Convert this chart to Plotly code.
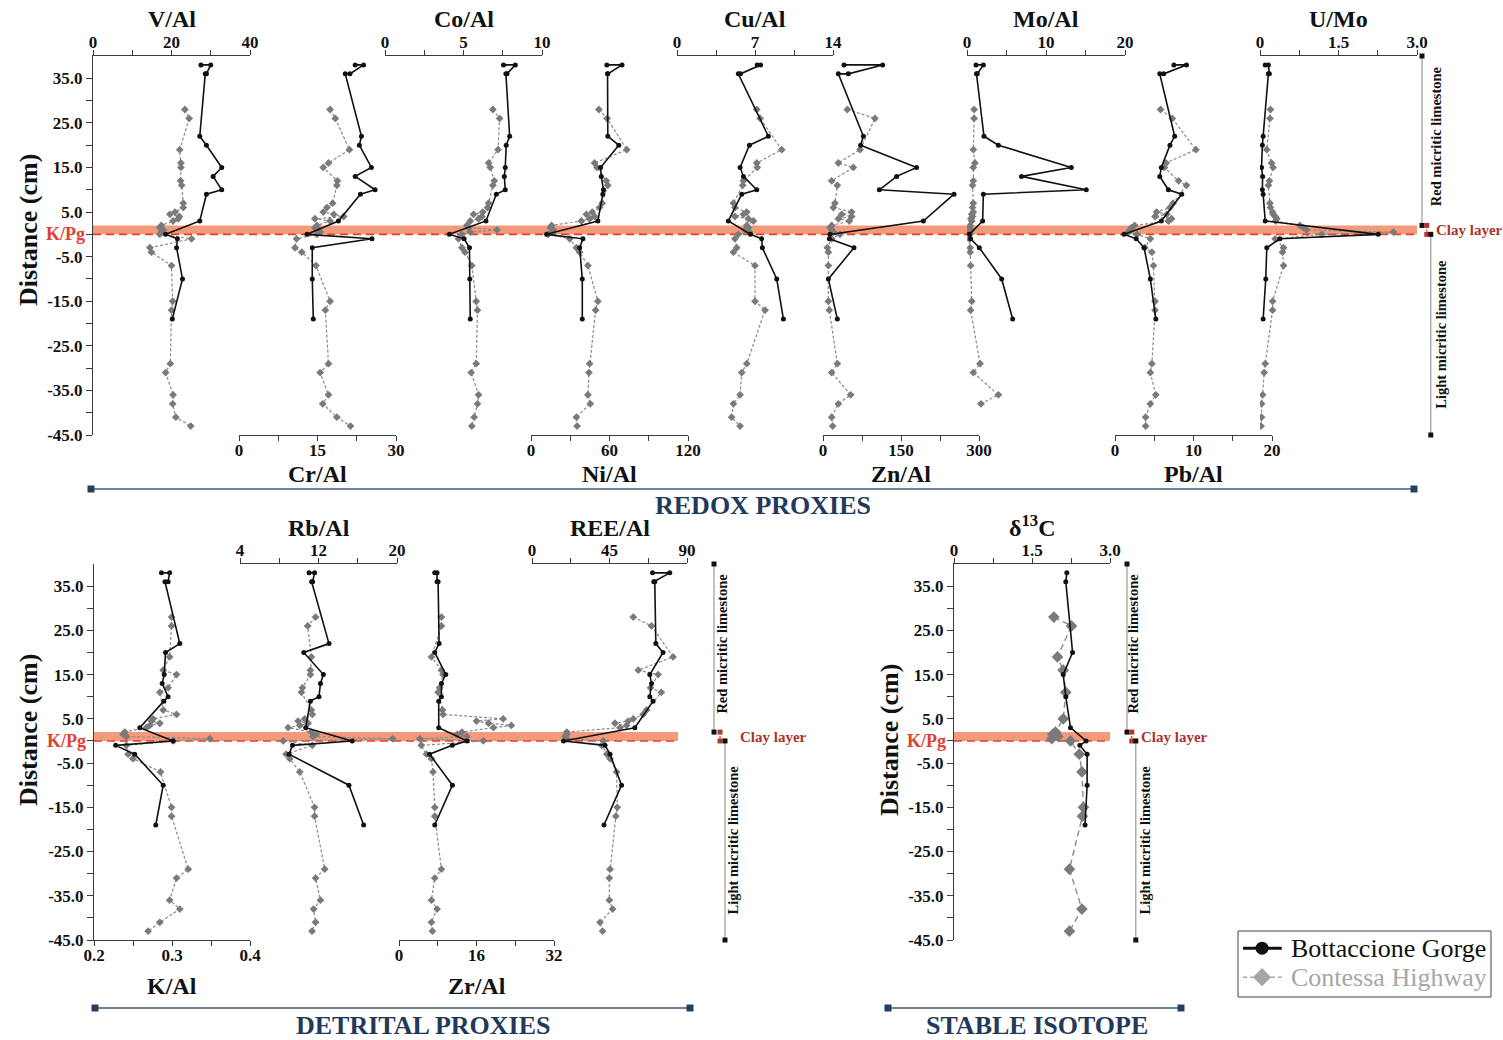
import plotly.graph_objects as go

W, H = 1503, 1040


def fx(p):
    return p / W


def fy(p):
    return 1 - p / H


SERIF = "Liberation Serif"
INK = "#111111"
GREY_LINE = "#8a8a8a"
GREY_MARK = "#7a7a7a"
LEGEND_GREY = "#a6a6a6"
CLAY = "#f39a7b"
KPG_RED = "#e2402f"
CLAY_TXT = "#a8352a"
NAVY = "#1f3a5a"
RULE = "#3e5a76"

# ---------------------------------------------------------------- data
# sample depths relative to the K/Pg boundary (cm)
BG_DEPTH = [38, 38, 36, 36, 22, 20, 15, 13, 10, 9, 3, 0, -1, -3, -10, -19]
CH_DEPTH = [28, 26, 19, 16, 15, 12, 11, 7, 6, 5, 4.5, 4, 3.5, 3, 2, 1.5, 1, 0.5,
            0, -1, -3, -4, -7, -15, -17, -29, -31, -36, -38, -41, -43]

# redox proxies
V_AL_BG = [27.5, 30.0, 28.9, 28.6, 27.2, 28.9, 32.8, 30.6, 32.8, 28.9, 27.2, 18.5, 21.5, 21.3, 22.8, 20.2]
V_AL_CH = [23.4, 24.5, 22.1, 22.4, 22.4, 22.3, 22.6, 23.0, 23.0, 20.9, 19.6, 22.0, 21.7, 20.4, 17.4, 17.0,
           17.9, 17.4, 17.0, 25.1, 14.5, 14.9, 20.0, 20.3, 20.0, 19.7, 18.5, 20.4, 20.3, 21.1, 24.9]

CR_AL_BG = [22.2, 23.8, 21.2, 20.3, 23.4, 23.0, 25.3, 22.2, 26.0, 23.2, 19.0, 13.0, 25.4, 14.0, 14.0, 14.2]
CR_AL_CH = [17.4, 18.4, 21.1, 17.1, 16.1, 18.8, 18.7, 17.9, 16.8, 16.1, 18.1, 20.0, 14.5, 17.4, 14.9, 14.5,
            15.2, 15.5, 14.9, 11.0, 10.7, 12.0, 14.7, 17.4, 16.5, 17.1, 15.5, 17.1, 16.0, 18.7, 21.3]

CO_AL_BG = [7.55, 8.3, 7.77, 7.7, 7.94, 7.72, 7.66, 7.6, 7.66, 7.09, 6.43, 4.1, 5.04, 5.38, 5.4, 5.43]
CO_AL_CH = [6.87, 7.3, 7.2, 6.6, 6.7, 6.96, 6.87, 6.6, 6.53, 6.23, 5.64, 6.17, 5.96, 5.43, 5.21, 5.32,
            7.13, 5.43, 4.9, 4.68, 4.9, 5.1, 5.53, 5.81, 5.89, 5.81, 5.49, 5.96, 5.89, 5.68, 5.53]

NI_AL_BG = [58.0, 69.6, 58.7, 58.5, 58.7, 67.1, 53.2, 53.7, 55.4, 54.9, 51.1, 11.9, 39.7, 37.2, 39.2, 39.2]
NI_AL_CH = [51.9, 58.2, 73.2, 48.6, 50.4, 57.5, 58.7, 54.4, 52.4, 46.8, 42.3, 48.6, 44.8, 38.5, 15.7, 14.9,
            17.0, 16.5, 13.2, 29.6, 34.7, 37.2, 43.5, 51.1, 49.4, 44.8, 44.3, 43.5, 45.3, 34.7, 35.2]

CU_AL_BG = [7.2, 7.5, 5.7, 5.5, 8.2, 6.5, 5.66, 5.96, 7.16, 5.81, 4.61, 6.6, 7.6, 7.66, 8.95, 9.55]
CU_AL_CH = [7.16, 7.46, 9.4, 7.16, 7.2, 5.96, 5.9, 5.06, 5.2, 6.26, 5.96, 5.2, 6.4, 6.86, 6.26, 6.4,
            6.1, 6.5, 5.5, 5.2, 5.36, 5.06, 7.0, 7.0, 7.9, 6.26, 5.81, 5.66, 5.06, 4.9, 5.66]

ZN_AL_BG = [40.4, 114.7, 48.7, 29.5, 77.6, 72.4, 180.0, 141.7, 108.3, 252.0, 193.0, 13.5, 12.2, 59.6, 10.3, 27.6]
ZN_AL_CH = [46.8, 100.0, 71.2, 29.5, 58.3, 16.7, 27.6, 23.0, 20.0, 55.0, 36.0, 55.0, 29.5, 50.6, 16.7, 13.5,
            16.7, 20.0, 32.7, 16.7, 8.3, 10.3, 10.3, 10.3, 12.2, 27.6, 16.7, 53.2, 29.5, 16.7, 18.6]

MO_AL_BG = [1.14, 2.07, 1.3, 1.2, 2.15, 3.97, 13.2, 6.9, 15.1, 2.07, 1.98, 0.3, 0.46, 1.56, 4.39, 5.78]
MO_AL_CH = [0.9, 0.9, 0.8, 1.0, 0.8, 0.8, 0.7, 0.8, 0.7, 0.8, 0.6, 0.7, 0.5, 0.6, 0.4, 0.3,
            0.5, 0.3, 0.4, 0.3, 0.4, 0.4, 0.46, 0.6, 0.46, 1.65, 0.8, 3.97, 1.77, None, None]

PB_AL_BG = [7.5, 9.1, 6.2, 5.7, 7.6, 7.0, 5.9, 5.7, 6.8, 8.5, 5.9, 1.15, 2.7, 3.7, 4.5, 5.2]
PB_AL_CH = [5.8, 7.3, 10.3, 6.5, 6.3, 8.1, 9.1, 7.4, 7.0, 5.3, 6.6, 5.1, 7.2, 6.8, 2.5, 2.1,
            1.9, 1.7, 2.8, 4.5, 3.8, 4.7, 4.9, 5.1, 5.1, 4.7, 4.5, 5.2, 4.5, 3.9, 3.9]

U_MO_BG = [0.1, 0.16, 0.18, 0.16, 0.06, 0.045, 0.03, 0.05, 0.045, 0.06, 0.1, 2.26, 0.38, 0.13, 0.11, 0.06]
U_MO_CH = [0.2, 0.19, 0.13, 0.22, 0.25, 0.18, 0.16, 0.19, 0.2, 0.24, 0.25, 0.29, 0.32, 0.3, 0.76, 0.83,
           0.89, 2.55, 1.18, 0.29, 0.45, 0.43, 0.45, 0.24, 0.24, 0.1, 0.08, 0.05, 0.03, 0.03, 0.02]

# detrital proxies
K_AL_BG = [0.2865, 0.297, 0.295, 0.291, 0.31, 0.2917, 0.29, 0.2874, 0.295, 0.2895, 0.2587, 0.3015,
           0.2278, 0.2522, 0.2887, 0.2792]
K_AL_CH = [0.2994, 0.2994, 0.297, 0.2887, 0.3058, 0.295, 0.2844, 0.2887, 0.3058, 0.2758, 0.2737, 0.2844,
           0.2715, 0.267, 0.2394, 0.2373, 0.2415, 0.3486, 0.3015, 0.2415, 0.2437, 0.25, 0.2852, 0.2994,
           0.2994, 0.3208, 0.3058, 0.297, 0.31, 0.2844, 0.2694]

RB_AL_BG = [11.04, 11.6, 11.4, 11.3, 13.07, 10.5, 12.5, 12.2, 12.05, 11.17, 10.7, 15.43, 9.35, 9.0, 15.1, 16.6]
RB_AL_CH = [11.7, 10.9, 11.27, 11.17, 11.17, 10.36, 10.26, 11.27, 11.37, 10.6, 9.92, 10.94, 10.09, 8.9,
            11.27, 11.78, 11.44, 19.56, 8.4, 11.37, 8.7, 9.07, 10.09, 11.6, 11.6, 12.63, 11.7, 12.2, 11.5,
            11.7, 11.34]

ZR_AL_BG = [7.38, 7.86, 7.86, 8.07, 8.28, 7.38, 9.66, 8.76, 8.76, 8.2, 8.2, 14.07, 11.0, 6.3, 11.03, 7.38]
ZR_AL_CH = [8.76, 8.76, 6.7, 8.76, 9.1, 8.4, 8.07, 8.97, 9.1, 21.5, 16.0, 18.5, 23.2, 19.5, 13.0, 12.0,
            14.0, 4.3, 17.4, 4.6, 5.66, 6.7, 7.03, 7.38, 7.38, 8.76, 7.38, 6.7, 7.86, 6.7, 6.9]

REE_AL_BG = [70.0, 80.0, 70.7, 71.3, 71.9, 76.1, 68.4, 69.4, 68.4, 70.3, 59.7, 18.3, 42.4, 45.3, 52.0, 41.8]
REE_AL_CH = [58.8, 69.4, 81.9, 61.7, 73.2, 68.8, 75.1, 66.5, 64.5, 58.8, 55.9, 48.2, 54.9, 51.1, 20.2,
             20.2, 19.3, 20.2, 41.4, 40.5, 43.4, 45.3, 49.1, 49.5, 48.7, 45.3, 44.9, 44.9, 46.8, 39.5, 41.0]

# stable isotope
D13C_BG_DEPTH = [38, 36, 20, 15, 10, 3, 0, -1, -3, -10, -19]
D13C_BG = [2.17, 2.15, 2.28, 2.1, 2.15, 2.24, 2.54, 2.42, 2.56, 2.56, 2.52]
D13C_CH_DEPTH = [28, 26, 19, 16, 11, 5, 2, 1.5, 1, 0.5, 0, -3, -7, -15, -17, -29, -38, -43]
D13C_CH = [1.92, 2.26, 1.99, 2.1, 2.15, 2.1, 1.95, 1.9, 2.0, 1.88, 2.24, 2.41, 2.46, 2.49, 2.47, 2.22,
           2.46, 2.22]

# lithological units of the section
UNIT_NAMES = ["Red micritic limestone", "Clay layer", "Light micritic limestone"]
UNIT_TOP = [40, 2, 0]
UNIT_BASE = [2, 0, -45]

SECTIONS = ["Bottaccione Gorge", "Contessa Highway"]

# depth axis
Y_TICKS = list(range(-45, 40, 5))
Y_LABELS = ["" if (v % 10 == 0) else f"{v:.1f}" for v in Y_TICKS]

# ---------------------------------------------------------------- layout geometry
TOP_DOM = [fy(435), fy(56)]
BOT_DOM = [fy(940), fy(564)]

# (title, BG values, CH values, left px, right px, side, range, tickvals, ticktext, y-axis)
PANELS = [
    ("V/Al", V_AL_BG, V_AL_CH, 93, 250, "top", [0, 40], [0, 10, 20, 30, 40], ["0", "", "20", "", "40"], "y"),
    ("Cr/Al", CR_AL_BG, CR_AL_CH, 239, 396, "bottom", [0, 30], [0, 7.5, 15, 22.5, 30], ["0", "", "15", "", "30"], "y"),
    ("Co/Al", CO_AL_BG, CO_AL_CH, 385, 542, "top", [0, 10], [0, 2.5, 5, 7.5, 10], ["0", "", "5", "", "10"], "y"),
    ("Ni/Al", NI_AL_BG, NI_AL_CH, 531, 688, "bottom", [0, 120], [0, 30, 60, 90, 120], ["0", "", "60", "", "120"], "y"),
    ("Cu/Al", CU_AL_BG, CU_AL_CH, 677, 833, "top", [0, 14], [0, 3.5, 7, 10.5, 14], ["0", "", "7", "", "14"], "y"),
    ("Zn/Al", ZN_AL_BG, ZN_AL_CH, 823, 979, "bottom", [0, 300], [0, 75, 150, 225, 300], ["0", "", "150", "", "300"], "y"),
    ("Mo/Al", MO_AL_BG, MO_AL_CH, 967, 1125, "top", [0, 20], [0, 5, 10, 15, 20], ["0", "", "10", "", "20"], "y"),
    ("Pb/Al", PB_AL_BG, PB_AL_CH, 1115, 1272, "bottom", [0, 20], [0, 5, 10, 15, 20], ["0", "", "10", "", "20"], "y"),
    ("U/Mo", U_MO_BG, U_MO_CH, 1260, 1417, "top", [0, 3], [0, 0.75, 1.5, 2.25, 3], ["0", "", "1.5", "", "3.0"], "y"),
    ("K/Al", K_AL_BG, K_AL_CH, 94, 250, "bottom", [0.2, 0.4], [0.2, 0.25, 0.3, 0.35, 0.4], ["0.2", "", "0.3", "", "0.4"], "y2"),
    ("Rb/Al", RB_AL_BG, RB_AL_CH, 240, 397, "top", [4, 20], [4, 8, 12, 16, 20], ["4", "", "12", "", "20"], "y2"),
    ("Zr/Al", ZR_AL_BG, ZR_AL_CH, 399, 554, "bottom", [0, 32], [0, 8, 16, 24, 32], ["0", "", "16", "", "32"], "y2"),
    ("REE/Al", REE_AL_BG, REE_AL_CH, 532, 687, "top", [0, 90], [0, 22.5, 45, 67.5, 90], ["0", "", "45", "", "90"], "y2"),
]

fig = go.Figure()
layout = {}
annotations = []
shapes = []

AX_LINE = dict(showline=True, linecolor="#3a3a3a", linewidth=1, ticks="outside", ticklen=5,
               tickcolor="#3a3a3a", tickwidth=1, showgrid=False, zeroline=False, automargin=False,
               fixedrange=True, tickfont=dict(family=SERIF, size=17, color=INK, weight="bold"))


def note(text, x, y, size, color=INK, yref="paper", angle=0, xanchor="center"):
    annotations.append(dict(text=text, x=x, y=y, xref="paper", yref=yref, showarrow=False,
                            xanchor=xanchor, yanchor="middle", textangle=angle,
                            font=dict(family=SERIF, size=size, color=color)))


def add_profile(xref, yref, bg_x, bg_y, ch_x, ch_y, big=False):
    fig.add_trace(go.Scatter(
        x=ch_x, y=ch_y, xaxis=xref, yaxis=yref, mode="lines+markers", showlegend=False,
        connectgaps=False, hoverinfo="skip",
        line=dict(color=GREY_LINE, width=1.2 if not big else 1.4, dash="3px,2px" if not big else "6px,4px"),
        marker=dict(symbol="diamond", size=6 if not big else 9, color=GREY_MARK)))
    fig.add_trace(go.Scatter(
        x=bg_x, y=bg_y, xaxis=xref, yaxis=yref, mode="lines+markers", showlegend=False,
        hoverinfo="skip",
        line=dict(color=INK, width=1.6),
        marker=dict(symbol="circle", size=5, color=INK)))


for i, (title, bg, ch, x0, x1, side, rng, tv, tt, yref) in enumerate(PANELS, start=1):
    xref = "x" if i == 1 else f"x{i}"
    key = "xaxis" if i == 1 else f"xaxis{i}"
    layout[key] = dict(AX_LINE, domain=[fx(x0), fx(x1)], anchor=yref, side=side, range=rng,
                       tickvals=tv, ticktext=tt, ticklabelstandoff=-5)
    add_profile(xref, yref, bg, BG_DEPTH, ch, CH_DEPTH)
    if yref == "y":
        ty = 19 if side == "top" else 474
    else:
        ty = 528 if side == "top" else 986
    note(f"<b>{title}</b>", fx((x0 + x1) / 2), fy(ty), 24)

# stable isotope panel
iso_i = len(PANELS) + 1
layout[f"xaxis{iso_i}"] = dict(AX_LINE, domain=[fx(954), fx(1110)], anchor="y3", side="top", range=[0, 3],
                               tickvals=[0, 0.75, 1.5, 2.25, 3], ticktext=["0", "", "1.5", "", "3.0"],
                               ticklabelstandoff=-5)
add_profile(f"x{iso_i}", "y3", D13C_BG, D13C_BG_DEPTH, D13C_CH, D13C_CH_DEPTH, big=True)
note("<b>δ<sup>13</sup>C</b>", fx(1032), fy(526), 24)

# depth axes
Y_BASE = dict(AX_LINE, range=[-45, 40], side="left", tickvals=Y_TICKS, ticktext=Y_LABELS, ticklen=6)
layout["yaxis"] = dict(Y_BASE, domain=TOP_DOM, anchor="x")
layout["yaxis2"] = dict(Y_BASE, domain=BOT_DOM, anchor="x10")
layout["yaxis3"] = dict(Y_BASE, domain=BOT_DOM, anchor=f"x{iso_i}")

for yref, xpix, ypix, band in [("y", 28, 230, (93, 1417)), ("y2", 28, 730, (94, 678)),
                               ("y3", 889, 740, (954, 1110))]:
    note("<b>Distance (cm)</b>", fx(xpix), fy(ypix), 26, angle=-90)
    note("<b>K/Pg</b>", fx(band[0] - 6), 0, 18, color=KPG_RED, yref=yref, xanchor="right")
    # clay layer band and K/Pg boundary
    shapes.append(dict(type="rect", xref="paper", yref=yref, x0=fx(band[0]), x1=fx(band[1]),
                       y0=UNIT_BASE[1], y1=UNIT_TOP[1], fillcolor=CLAY, line=dict(width=0), layer="below"))
    shapes.append(dict(type="line", xref="paper", yref=yref, x0=fx(band[0]), x1=fx(band[1]),
                       y0=0, y1=0, line=dict(color=KPG_RED, width=1.6, dash="8px,5px"), layer="below"))

# lithological columns beside each block
STRAT = [("y", 1418, 1434, 1436, 1441, 1434), ("y2", 709, 729, 722, 733, 738), ("y3", 1123, 1139, 1133, 1145, 1139)]
for k, (yref, d0, d1, red_tx, light_tx, clay_tx) in enumerate(STRAT):
    ax_i = iso_i + 1 + k
    layout[f"xaxis{ax_i}"] = dict(domain=[fx(d0), fx(d1)], range=[0, 1], visible=False, anchor=yref,
                                  fixedrange=True, automargin=False)
    positions = [0.25, 0.55, 0.8]
    for u in range(3):
        clay = u == 1
        fig.add_trace(go.Scatter(
            x=[positions[u], positions[u]], y=[UNIT_TOP[u], UNIT_BASE[u]], xaxis=f"x{ax_i}", yaxis=yref,
            mode="lines+markers", showlegend=False, hoverinfo="skip", cliponaxis=False,
            line=dict(color="#b8332a" if clay else "#9a9a9a", width=1.2, dash="2px,2px" if clay else None),
            marker=dict(symbol="square", size=5, color="#b8332a" if clay else INK)))
    note(f"<b>{UNIT_NAMES[0]}</b>", fx(red_tx), 22, 14.5, yref=yref, angle=-90)
    note(f"<b>{UNIT_NAMES[2]}</b>", fx(light_tx), (UNIT_TOP[2] + UNIT_BASE[2]) / 2, 14.5, yref=yref, angle=-90)
    note(f"<b>{UNIT_NAMES[1]}</b>", fx(clay_tx), (UNIT_TOP[1] + UNIT_BASE[1]) / 2, 15, color=CLAY_TXT,
         yref=yref, xanchor="left")

# group headers
for label, x0, x1, yline, xtxt, ytxt in [("REDOX PROXIES", 91, 1414, 489, 763, 505),
                                         ("DETRITAL PROXIES", 95, 690, 1008, 423, 1025),
                                         ("STABLE ISOTOPE", 888, 1181, 1008, 1037, 1025)]:
    shapes.append(dict(type="line", xref="paper", yref="paper", x0=fx(x0), x1=fx(x1), y0=fy(yline),
                       y1=fy(yline), line=dict(color=RULE, width=1.5)))
    for xe in (x0, x1):
        shapes.append(dict(type="rect", xref="paper", yref="paper", x0=fx(xe - 3.5), x1=fx(xe + 3.5),
                           y0=fy(yline + 3.5), y1=fy(yline - 3.5), fillcolor="#24405e",
                           line=dict(width=0)))
    note(f"<b>{label}</b>", fx(xtxt), fy(ytxt), 26, color=NAVY)

# legend box drawn on its own hidden axes
leg_x = iso_i + 4
layout[f"xaxis{leg_x}"] = dict(domain=[fx(1238), fx(1491)], range=[0, 1], visible=False, anchor="y4",
                               fixedrange=True, automargin=False)
layout["yaxis4"] = dict(domain=[fy(997), fy(931)], range=[0, 1], visible=False, anchor=f"x{leg_x}",
                        fixedrange=True, automargin=False)
shapes.append(dict(type="rect", xref="paper", yref="paper", x0=fx(1238), x1=fx(1491), y0=fy(997), y1=fy(931),
                   line=dict(color="#444444", width=1), fillcolor="white", layer="below"))
legend_rows = [(SECTIONS[0], 0.74, INK, INK, None, "circle", 3, 13),
               (SECTIONS[1], 0.30, LEGEND_GREY, LEGEND_GREY, "4px,3px", "diamond", 1.5, 14)]
for name, ry, lcol, tcol, dash, sym, lw, ms in legend_rows:
    fig.add_trace(go.Scatter(x=[0.02, 0.173], y=[ry, ry], xaxis=f"x{leg_x}", yaxis="y4", mode="lines",
                             showlegend=False, hoverinfo="skip", line=dict(color=lcol, width=lw, dash=dash)))
    fig.add_trace(go.Scatter(x=[0.095], y=[ry], xaxis=f"x{leg_x}", yaxis="y4", mode="markers",
                             showlegend=False, hoverinfo="skip",
                             marker=dict(symbol=sym, size=ms, color=lcol)))
    note(name, fx(1289), ry, 26, color=tcol, yref="y4", xanchor="left")

fig.update_layout(
    template="none",
    width=W, height=H, margin=dict(l=0, r=0, t=0, b=0, autoexpand=False),
    paper_bgcolor="white", plot_bgcolor="rgba(0,0,0,0)",
    showlegend=False,
    annotations=annotations, shapes=shapes,
    **layout,
)

fig.write_html("out.html")
